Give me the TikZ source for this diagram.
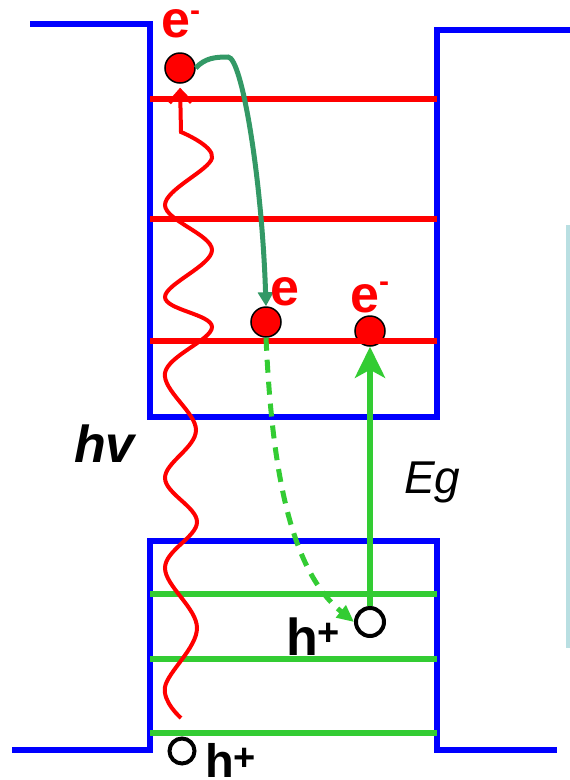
\documentclass[tikz,border=0pt]{standalone}
\usepackage{fontspec}
\setmainfont{Liberation Sans}
\usetikzlibrary{arrows.meta}
\definecolor{bandblue}{HTML}{0000FF}
\definecolor{lvred}{HTML}{FF0000}
\definecolor{lvgreen}{HTML}{33CC33}
\definecolor{relaxteal}{HTML}{339966}
\definecolor{edgecyan}{HTML}{B9DFE2}

\begin{document}
\begin{tikzpicture}[x=1pt, y=-1pt,
    band/.style={draw=bandblue, line width=6pt},
    clevel/.style={draw=lvred, line width=6pt},
    vlevel/.style={draw=lvgreen, line width=6pt},
    electron/.style={circle, draw=black, fill=lvred, line width=1.5pt, minimum size=30pt, inner sep=0pt},
    hole/.style={circle, draw=black, line width=4pt, inner sep=0pt},
    lbl/.style={anchor=base west, inner sep=0pt, font=\bfseries\fontsize{52}{60}\selectfont}]
  \useasboundingbox (0,0) rectangle (570,780);
  \draw[band] (30,24) -- (150,24) -- (150,417) -- (437,417) -- (437,30) -- (570,30);
  \draw[band] (12,750) -- (150,750) -- (150,541) -- (437,541) -- (437,750) -- (557,750);
  \draw[edgecyan, line width=4pt] (568,225) -- (568,648);

  \node[electron] (e1) at (180,68) {};
  \node[electron] (e2) at (266,322) {};
  \node[electron] (e3) at (370,331) {};
  \node[hole, minimum size=28pt] (h1) at (370,622) {};
  \node[hole, minimum size=25pt] (h2) at (182,751) {};

  \foreach \y in {99,219,341}
    \draw[clevel] (150,\y) -- (437,\y);
  \foreach \y in {594,659,733}
    \draw[vlevel] (150,\y) -- (437,\y);

  \draw[lvgreen, line width=5pt, dash pattern=on 13pt off 9pt, -{Triangle[length=17pt,width=15pt]}]
    (e2.south) .. controls (272,470) and (290,570) .. (h1.west);
  \draw[lvgreen, line width=6pt, -{Stealth[length=31pt,width=30pt,inset=8pt]}] (h1.north) -- (e3.south);
  \draw[lvred, line width=4pt, shorten >=4pt, -{Straight Barb[length=12pt,width=22pt]}]
    plot[smooth, tension=0.6] coordinates {(181,718) (165,687) (197,628) (165,568) (197,522) (165,478)
      (196,430) (165,373) (212,327) (165,297) (212,250) (165,205) (212,158) (181,132)} -- (e1.south);
  \draw[relaxteal, line width=5pt, -{Triangle[length=14pt,width=15pt]}]
    (e1.east) .. controls (205,58) and (215,57) .. (228,57) .. controls (242,57) and (262,180) .. (e2.north);

  \node[lbl, text=lvred] (etop) at (161,37) {e\raisebox{17pt}{\fontsize{30}{30}\selectfont -}};
  \node[lbl, text=lvred] (emid) at (270,305) {e};
  \node[lbl, text=lvred] (eright) at (350,312) {e\raisebox{21pt}{\fontsize{30}{30}\selectfont -}};
  \node[lbl] (hmid) at (286,655) {h\raisebox{10pt}{\fontsize{38}{38}\selectfont +}};
  \node[lbl, font=\bfseries\fontsize{47}{55}\selectfont] (hbot) at (205,777) {h\raisebox{7pt}{\fontsize{38}{38}\selectfont +}};
  \node[lbl, font=\bfseries\itshape\fontsize{52}{60}\selectfont] (hv) at (74,462) {hv};
  \node[lbl, font=\itshape\fontsize{46}{54}\selectfont] (eg) at (404,493) {Eg};
\end{tikzpicture}
\end{document}
